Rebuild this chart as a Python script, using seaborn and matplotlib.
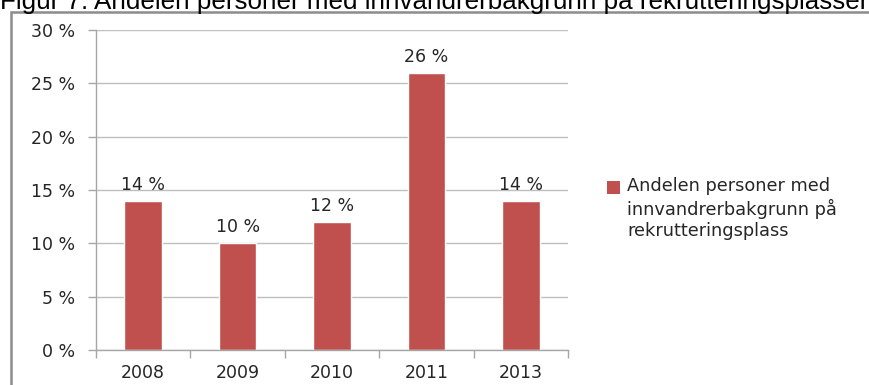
import matplotlib
matplotlib.use("Agg")
import matplotlib.pyplot as plt
import seaborn as sns
import pandas as pd
from matplotlib.patches import Rectangle
from matplotlib.ticker import FixedLocator

years = ["2008", "2009", "2010", "2011", "2013"]
values = [14, 10, 12, 26, 14]
series_name = "Andelen personer med\ninnvandrerbakgrunn på\nrekrutteringsplass"
y_ticks = [0, 5, 10, 15, 20, 25, 30]
title = "Figur 7: Andelen personer med innvandrerbakgrunn på rekrutteringsplasser"

df = pd.DataFrame({"year": years, "value": values, "series": series_name})

sns.set_theme(style="white")
plt.rcParams["font.family"] = ["DejaVu Sans"]

W, H = 869, 385
fig = plt.figure(figsize=(W / 100, H / 100), dpi=100)
ax = fig.add_axes([96 / W, 35 / H, (568 - 96) / W, 320 / H])

bar_color = "#C0504D"
sns.barplot(data=df, x="year", y="value", hue="series", palette=[bar_color],
            width=0.4, ax=ax, saturation=1, legend=True)

ax.set_ylim(0, 30)
ax.set_xlim(-0.5, len(years) - 0.5)
ax.set_yticks(y_ticks)
ax.set_yticklabels([f"{t} %" for t in y_ticks])
ax.set_xlabel("")
ax.set_ylabel("")

grid_c = "#BFBFBF"
ax.yaxis.grid(True, color=grid_c, linewidth=1)
ax.set_axisbelow(True)
for s in ["top", "right"]:
    ax.spines[s].set_visible(False)
for s in ["left", "bottom"]:
    ax.spines[s].set_color("#A6A6A6")
    ax.spines[s].set_linewidth(1)

tick_fs = 12.5
ax.tick_params(axis="y", which="major", length=6, color="#A6A6A6", width=1,
               labelsize=tick_fs, labelcolor="#262626", pad=9, left=True)
ax.xaxis.set_minor_locator(FixedLocator([i - 0.5 for i in range(len(years) + 1)]))
ax.tick_params(axis="x", which="major", length=0, labelsize=tick_fs,
               labelcolor="#262626", pad=10)
ax.tick_params(axis="x", which="minor", length=6, color="#A6A6A6", width=1,
               bottom=True)

for p, v in zip(ax.patches, values):
    ax.annotate(f"{v} %", (p.get_x() + p.get_width() / 2, p.get_height()),
                xytext=(0, 5), textcoords="offset points", ha="center",
                va="bottom", fontsize=tick_fs, color="#262626")

leg_fs = 12.8
leg = ax.legend(loc="upper left", bbox_to_anchor=(598 / W, 1 - 168 / H),
                bbox_transform=fig.transFigure, frameon=False, fontsize=leg_fs,
                handlelength=0.75, handleheight=0.75, handletextpad=0.4,
                labelspacing=0.2, borderpad=0)
line_sp = 1.22
for t in leg.get_texts():
    t.set_color("#262626")
    t.set_linespacing(line_sp)
for h in leg.legend_handles:
    h.set_edgecolor("none")
    # align marker with the first text line
    n_lines = series_name.count("\n") + 1
    h.set_y(h.get_y() + (n_lines - 1) / 2 * leg_fs * line_sp)

# outer frame
fig.patches.append(Rectangle((11 / W, -0.1), 1.0, (H - 12) / H + 0.1,
                             transform=fig.transFigure, fill=False,
                             edgecolor="#8C8C8C", linewidth=1.8))

fig.text(0 / W, 1 - 9 / H, title, ha="left", va="baseline",
         fontsize=18.7, family="Liberation Sans", color="#000000")

fig.savefig("out.png", dpi=100)
